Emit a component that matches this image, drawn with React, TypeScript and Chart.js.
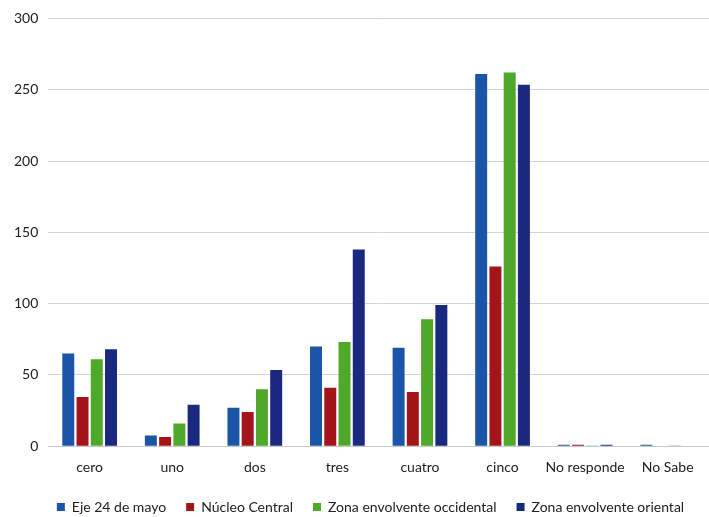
import React, { useEffect, useRef } from "react";
import { Chart, registerables } from "chart.js";

Chart.register(...registerables);

const categories = ["cero", "uno", "dos", "tres", "cuatro", "cinco", "No responde", "No Sabe"];
const seriesNames = ["Eje 24 de mayo", "Núcleo Central", "Zona envolvente occidental", "Zona envolvente oriental"];
const eje24 = [65, 7.5, 27, 70, 69, 261, 1, 1];
const nucleo = [34.5, 6.5, 24, 41, 38, 126, 1, 0];
const occidental = [61, 16, 40, 73, 89, 262, 0.5, 0.5];
const oriental = [68, 29, 53.5, 138, 99, 253.5, 1, 0];
const colors = ["#1B55A8", "#A3141B", "#4EA82A", "#1B2880"];
const yTicks = [0, 50, 100, 150, 200, 250, 300];

const shiftLegend = {
  id: "shiftLegend",
  afterLayout(chart: any) {
    const l = chart.legend;
    if (l) {
      l.left += 14;
      l.right += 14;
    }
  },
};

export default function App() {
  const ref = useRef<HTMLCanvasElement | null>(null);
  useEffect(() => {
    document.body.style.margin = "0";
    const ctx = ref.current!;
    const font = "Lato, 'Open Sans', sans-serif";
    const data = [eje24, nucleo, occidental, oriental];
    const chart = new Chart(ctx, {
      type: "bar",
      data: {
        labels: categories,
        datasets: seriesNames.map((n, i) => ({
          label: n,
          data: data[i],
          backgroundColor: colors[i],
          borderWidth: 0,
          barPercentage: 0.84,
          categoryPercentage: 0.69,
        })),
      },
      plugins: [shiftLegend],
      options: {
        animation: false,
        responsive: true,
        maintainAspectRatio: false,
        layout: { padding: { left: 4, right: 0, top: 11, bottom: -7 } },
        plugins: {
          legend: {
            position: "bottom",
            labels: {
              boxWidth: 8,
              boxHeight: 8,
              padding: 20,
              color: "#222",
              font: { family: font, size: 14 },
            },
          },
          tooltip: { enabled: false },
        },
        scales: {
          x: {
            afterFit: (axis: any) => {
              axis.height -= 9;
            },
            grid: { display: false, drawTicks: false },
            border: { display: true, color: "#c8c8d0" },
            ticks: {
              color: "#222",
              font: { family: font, size: 14 },
              padding: 13,
              maxRotation: 0,
              minRotation: 0,
              autoSkip: false,
            },
          },
          y: {
            min: 0,
            max: 300,
            afterBuildTicks: (axis: any) => {
              axis.ticks = yTicks.map((v) => ({ value: v }));
            },
            grid: { color: "#d4d4dc", drawTicks: false },
            border: { display: false },
            ticks: { color: "#222", font: { family: font, size: 14 }, padding: 10 },
          },
        },
      },
    });
    return () => chart.destroy();
  }, []);
  return (
    <div style={{ position: "fixed", left: 0, top: 0, width: 709, height: 517, background: "#fff" }}>
      <canvas ref={ref} />
    </div>
  );
}
